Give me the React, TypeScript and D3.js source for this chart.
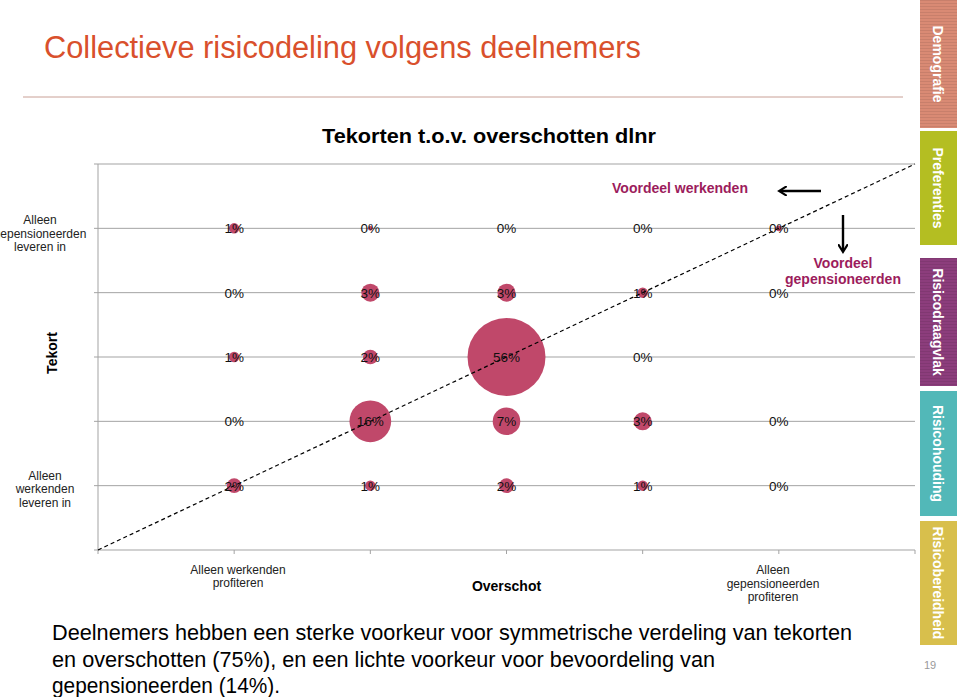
import React from "react";
import { scaleLinear, scaleSqrt, range } from "d3";

// columns 1..5 on the x axis, rows 1..5 on the y axis (row 5 = top)
const colIndex = [1, 2, 3, 4, 5];
// share of participants (%) per cell
const rowTop = [1, 0.2, 0, 0, 0.3];       // y = 5
const rowFour = [0, 3, 3, 1, 0];          // y = 4
const rowMid = [1, 2, 56, 0, null];       // y = 3
const rowTwo = [0, 16, 7, 3, 0];          // y = 2
const rowBottom = [2, 1, 2, 1, 0];        // y = 1
const rows = [
  { y: 5, values: rowTop },
  { y: 4, values: rowFour },
  { y: 3, values: rowMid },
  { y: 2, values: rowTwo },
  { y: 1, values: rowBottom },
];

const tabNames = ["Demografie", "Preferenties", "Risicodraagvlak", "Risicohouding", "Risicobereidheid"];
const tabColors = ["#d98a74", "#b4be22", "#8c3d7c", "#52b8b8", "#d8bf4c"];
const tabTops = [0, 131, 258, 391, 521];
const tabBottoms = [128, 245, 386, 516, 645];

const summaryLines = [
  "Deelnemers hebben een sterke voorkeur voor symmetrische verdeling van tekorten",
  "en overschotten (75%), en een lichte voorkeur voor bevoordeling van",
  "gepensioneerden (14%).",
];
const summaryWidths = [800, 663, 228];

const W = 960;
const H = 697;
const font = "'Liberation Sans', Arial, Helvetica, sans-serif";
const bubbleColor = "#c0486a";
const accent = "#9c1c5c";

export default function App() {
  const x = scaleLinear().domain([0, 6]).range([98, 915]);
  const y = scaleLinear().domain([0, 6]).range([550, 164]);
  const r = scaleSqrt().domain([0, 56]).range([0, 39]);

  return (
    <div style={{ position: "absolute", left: 0, top: 0, width: W, height: H, background: "#fff" }}>
      <svg width={W} height={H} style={{ display: "block", fontFamily: font }}>
        <defs>
          <pattern id="stripes" width="4" height="3" patternUnits="userSpaceOnUse">
            <rect width="4" height="1" fill="#000" opacity="0.08" />
          </pattern>
          <marker id="ah" viewBox="0 0 10 10" refX="6" refY="5" markerWidth="4" markerHeight="4" orient="auto-start-reverse">
            <path d="M0,0 L8,5 L0,10" fill="none" stroke="#000" strokeWidth="2.2" />
          </marker>
        </defs>

        {/* slide title */}
        <text x={44} y={58} fontSize={31} fill="#d9502c" textLength={597} lengthAdjust="spacingAndGlyphs">
          Collectieve risicodeling volgens deelnemers
        </text>
        <line x1={23} x2={903} y1={97} y2={97} stroke="#c9a096" strokeWidth={1} />

        {/* chart title */}
        <text x={322} y={143} fontSize={20.5} fontWeight="bold" fill="#000" textLength={334} lengthAdjust="spacingAndGlyphs">
          Tekorten t.o.v. overschotten dlnr
        </text>

        {/* grid */}
        {range(1, 7).map((v) => (
          <line key={"g" + v} x1={x(0) - 4} x2={x(6)} y1={y(v)} y2={y(v)} stroke="#a3a3a3" strokeWidth={1} />
        ))}
        <line x1={x(0)} x2={x(0)} y1={y(6)} y2={y(0)} stroke="#a3a3a3" />
        <line x1={x(0) - 4} x2={x(6)} y1={y(0)} y2={y(0)} stroke="#a3a3a3" />
        {range(0, 7).map((v) => (
          <line key={"t" + v} x1={x(v)} x2={x(v)} y1={y(0)} y2={y(0) + 4} stroke="#a3a3a3" />
        ))}

        {/* bubbles */}
        {rows.map((row) =>
          row.values.map((v, i) =>
            v == null ? null : (
              <circle key={`c${row.y}-${i}`} cx={x(colIndex[i])} cy={y(row.y)} r={r(v)} fill={bubbleColor} />
            )
          )
        )}

        {/* diagonal */}
        <line x1={x(0)} y1={y(0)} x2={x(6)} y2={y(6)} stroke="#000" strokeWidth={1.2} strokeDasharray="4,3" />

        {/* bubble labels */}
        {rows.map((row) =>
          row.values.map((v, i) =>
            v == null ? null : (
              <text
                key={`l${row.y}-${i}`}
                x={x(colIndex[i])}
                y={y(row.y) + 5}
                fontSize={13.5}
                textAnchor="middle"
                fill="#111"
              >
                {Math.round(v)}%
              </text>
            )
          )
        )}

        {/* y category labels */}
        <text fontSize={12} fill="#222" textAnchor="middle">
          <tspan x={40} y={224}>Alleen</tspan>
          <tspan x={40} y={238}>gepensioneerden</tspan>
          <tspan x={40} y={251}>leveren in</tspan>
        </text>
        <text fontSize={12} fill="#222" textAnchor="middle">
          <tspan x={45} y={480}>Alleen</tspan>
          <tspan x={45} y={493}>werkenden</tspan>
          <tspan x={45} y={507}>leveren in</tspan>
        </text>
        <text
          transform={`translate(57,${y(3) - 4}) rotate(-90)`}
          fontSize={14}
          fontWeight="bold"
          textAnchor="middle"
          fill="#000"
        >
          Tekort
        </text>

        {/* x category labels */}
        <text fontSize={12} fill="#222" textAnchor="middle">
          <tspan x={238} y={574}>Alleen werkenden</tspan>
          <tspan x={238} y={587}>profiteren</tspan>
        </text>
        <text x={x(3)} y={591} fontSize={14} fontWeight="bold" textAnchor="middle" fill="#000">
          Overschot
        </text>
        <text fontSize={12} fill="#222" textAnchor="middle">
          <tspan x={773} y={574}>Alleen</tspan>
          <tspan x={773} y={588}>gepensioneerden</tspan>
          <tspan x={773} y={601}>profiteren</tspan>
        </text>

        {/* annotations */}
        <text x={680} y={193} fontSize={14} fontWeight="bold" textAnchor="middle" fill={accent}>
          Voordeel werkenden
        </text>
        <line x1={821} y1={191} x2={781} y2={191} stroke="#000" strokeWidth={2.4} markerEnd="url(#ah)" />
        <line x1={843} y1={215} x2={843} y2={250} stroke="#000" strokeWidth={2.4} markerEnd="url(#ah)" />
        <text fontSize={14} fontWeight="bold" textAnchor="middle" fill={accent}>
          <tspan x={843} y={268}>Voordeel</tspan>
          <tspan x={843} y={284}>gepensioneerden</tspan>
        </text>

        {/* summary */}
        {summaryLines.map((s, i) => (
          <text
            key={"s" + i}
            x={52}
            y={640 + i * 26.5}
            fontSize={22}
            fill="#000"
            textLength={summaryWidths[i]}
            lengthAdjust="spacingAndGlyphs"
          >
            {s}
          </text>
        ))}

        {/* side tabs */}
        {tabNames.map((name, i) => {
          const top = tabTops[i];
          const h = tabBottoms[i] - top;
          const cx = 938;
          const cy = top + h / 2;
          return (
            <g key={name}>
              <rect x={920} y={top} width={37} height={h} fill={tabColors[i]} />
              {(i === 0 || i === 2) && <rect x={920} y={top} width={37} height={h} fill="url(#stripes)" />}
              <text
                transform={`translate(${cx},${cy}) rotate(90)`}
                fontSize={14}
                fontWeight="bold"
                textAnchor="middle"
                dy={5}
                fill="#fff"
              >
                {name}
              </text>
            </g>
          );
        })}
        <text x={930} y={669} fontSize={11} fill="#999" textAnchor="middle">
          19
        </text>
      </svg>
    </div>
  );
}
